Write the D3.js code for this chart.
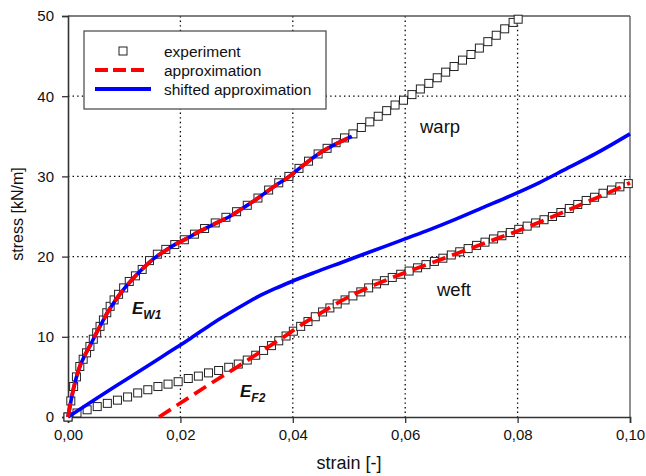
<!DOCTYPE html>
<html><head><meta charset="utf-8">
<script src="https://cdn.jsdelivr.net/npm/d3@7"></script>
<style>
html,body{margin:0;padding:0;background:#fff;}
svg text{font-family:"Liberation Sans",Arial,sans-serif;fill:#111;}
</style></head>
<body><svg id="chart" width="646" height="476"></svg>
<script>
// ---------- data ----------
const xTicks = [0, 0.02, 0.04, 0.06, 0.08, 0.10];
const xTickLabels = ["0,00", "0,02", "0,04", "0,06", "0,08", "0,10"];
const yTicks = [0, 10, 20, 30, 40, 50];
const yTickLabels = ["0", "10", "20", "30", "40", "50"];

// warp experiment
const warpExpStrain = [0,0.0005,0.001,0.0015,0.0021,0.0027,0.0033,0.0039,0.0045,0.0051,0.0057,0.0063,0.0069,0.0075,0.0082,0.0090,0.0099,0.0109,0.0120,0.0132,0.0145,0.0159,0.0174,0.0190,0.0207,0.0225,0.0243,0.0262,0.0281,0.0300,0.0319,0.0338,0.0357,0.0375,0.0393,0.0411,0.0428,0.0445,0.0461,0.0477,0.0492,0.0507,0.0522,0.0537,0.0552,0.0567,0.0582,0.0597,0.0612,0.0627,0.0642,0.0657,0.0672,0.0687,0.0702,0.0717,0.0732,0.0747,0.0762,0.0777,0.0792,0.0801];
const warpExpStress = [0,2.0,3.8,5.0,6.3,7.2,8.0,8.8,9.7,10.5,11.3,12.1,13.0,13.8,14.6,15.3,16.1,16.9,17.6,18.4,19.5,20.3,20.9,21.5,22.1,22.8,23.5,24.2,24.9,25.6,26.4,27.3,28.3,29.2,30.0,31.0,31.9,32.8,33.5,34.2,34.8,35.3,36.1,36.8,37.5,38.2,38.9,39.5,40.2,40.9,41.6,42.3,43.0,43.7,44.5,45.2,46.0,46.8,47.6,48.4,49.2,49.6];

// weft experiment
const weftExpStrain = [0,0.0016,0.0034,0.0052,0.0070,0.0088,0.0106,0.0124,0.0142,0.0160,0.0178,0.0196,0.0214,0.0232,0.0250,0.0268,0.0286,0.0303,0.0319,0.0334,0.0348,0.0362,0.0375,0.0388,0.0401,0.0414,0.0427,0.0440,0.0453,0.0466,0.0479,0.0493,0.0507,0.0521,0.0535,0.0549,0.0563,0.0577,0.0592,0.0607,0.0622,0.0637,0.0652,0.0667,0.0682,0.0697,0.0712,0.0727,0.0742,0.0757,0.0772,0.0787,0.0802,0.0817,0.0832,0.0847,0.0862,0.0877,0.0892,0.0907,0.0922,0.0937,0.0952,0.0967,0.0982,0.0997];
const weftExpStress = [0,0.5,0.9,1.3,1.7,2.1,2.5,3.0,3.4,3.8,4.1,4.4,4.8,5.1,5.5,5.8,6.2,6.6,7.1,7.7,8.3,8.9,9.5,10.1,10.7,11.3,11.9,12.5,13.1,13.6,14.1,14.6,15.1,15.6,16.1,16.6,17.0,17.4,17.8,18.2,18.6,19.0,19.4,19.8,20.2,20.6,21.0,21.4,21.8,22.2,22.6,23.0,23.4,23.8,24.2,24.6,25.0,25.5,26.0,26.5,27.0,27.4,27.9,28.3,28.7,29.1];

// warp approximation (and its shifted version, shift = 0)
const warpApproxStrain = [0,0.001,0.002,0.003,0.004,0.005,0.006,0.007,0.008,0.009,0.010,0.0115,0.013,0.015,0.017,0.019,0.021,0.023,0.025,0.027,0.029,0.031,0.033,0.035,0.037,0.039,0.041,0.043,0.045,0.047,0.049,0.0505];
const warpApproxStress = [0,3.6,6.1,7.7,9.0,10.4,11.7,13.0,14.1,15.1,16.0,17.2,18.3,19.6,20.6,21.5,22.2,23.0,23.7,24.4,25.1,26.0,26.9,27.9,28.9,29.8,30.9,32.0,33.0,33.8,34.5,35.0];

// weft approximation
const weftApproxStrain = [0.0162,0.0250,0.0300,0.0340,0.0380,0.0420,0.0460,0.0500,0.0530,0.0560,0.0600,0.0650,0.0700,0.0750,0.0800,0.0850,0.0900,0.0950,0.1000];
const weftApproxStress = [0,4.0,6.2,8.0,9.8,11.7,13.4,15.0,16.0,16.9,18.0,19.3,20.6,21.9,23.2,24.6,26.1,27.6,29.2];

// shifted weft approximation
const weftShiftStrain = [0,0.0088,0.0138,0.0178,0.0218,0.0258,0.0298,0.0338,0.0368,0.0398,0.0438,0.0488,0.0538,0.0588,0.0638,0.0688,0.0738,0.0788,0.0838,0.0888,0.0938,0.1000];
const weftShiftStress = [0,4.0,6.2,8.0,9.8,11.7,13.4,15.0,16.0,16.9,18.0,19.3,20.6,21.9,23.2,24.6,26.1,27.6,29.2,31.0,32.8,35.3];

const legendLabels = ["experiment", "approximation", "shifted approximation"];

// ---------- drawing ----------
const svg = d3.select("#chart");
const L = 68, R = 630, T = 16, B = 417;
const x = d3.scaleLinear().domain([0, 0.1]).range([L, R]);
const y = d3.scaleLinear().domain([0, 50]).range([B, T]);
const zip = (a, b) => a.map((v, i) => [v, b[i]]);

// grid
const grid = svg.append("g");
grid.selectAll("line.v").data(xTicks.slice(1, -1)).join("line")
  .attr("x1", d => x(d)).attr("x2", d => x(d)).attr("y1", T).attr("y2", B)
  .attr("stroke", "#000").attr("stroke-width", 1.3).attr("stroke-dasharray", "1.4,3.2");
grid.selectAll("line.h").data(yTicks.slice(1, -1)).join("line")
  .attr("y1", d => y(d)).attr("y2", d => y(d)).attr("x1", L).attr("x2", R)
  .attr("stroke", "#000").attr("stroke-width", 1.3).attr("stroke-dasharray", "1.4,3.2");

// frame top/right
svg.append("line").attr("x1", L).attr("x2", R).attr("y1", T).attr("y2", T).attr("stroke", "#555").attr("stroke-width", 1.3);
svg.append("line").attr("x1", R).attr("x2", R).attr("y1", T).attr("y2", B).attr("stroke", "#555").attr("stroke-width", 1.3);

// axes
const xAxis = d3.axisBottom(x).tickValues(xTicks).tickFormat((d, i) => xTickLabels[i]).tickSizeOuter(0).tickSize(6).tickPadding(6);
const yAxis = d3.axisLeft(y).tickValues(yTicks).tickFormat((d, i) => yTickLabels[i]).tickSizeOuter(0).tickSize(6).tickPadding(8);
const gx = svg.append("g").attr("transform", `translate(0,${B})`).call(xAxis);
const gy = svg.append("g").attr("transform", `translate(${L},0)`).call(yAxis);
[gx, gy].forEach(g => {
  g.select(".domain").attr("stroke", "#333").attr("stroke-width", 1.6);
  g.selectAll(".tick line").attr("stroke", "#333").attr("stroke-width", 1.3);
  g.selectAll(".tick text").attr("font-size", 15).attr("font-family", "Liberation Sans, Arial, sans-serif").attr("fill", "#111");
});

// squares
const sq = 8;
const squares = svg.append("g");
[zip(warpExpStrain, warpExpStress), zip(weftExpStrain, weftExpStress)].forEach(pts => {
  squares.append("g").selectAll("rect").data(pts).join("rect")
    .attr("x", d => x(d[0]) - sq / 2).attr("y", d => y(d[1]) - sq / 2)
    .attr("width", sq).attr("height", sq)
    .attr("fill", "#fff").attr("stroke", "#222").attr("stroke-width", 1);
});

const line = d3.line().x(d => x(d[0])).y(d => y(d[1])).curve(d3.curveMonotoneX);
// shifted approximations (blue)
[zip(warpApproxStrain, warpApproxStress), zip(weftShiftStrain, weftShiftStress)].forEach(pts => {
  svg.append("path").attr("d", line(pts)).attr("fill", "none")
    .attr("stroke", "#0000ff").attr("stroke-width", 3.6);
});
// approximations (red dashed)
[zip(warpApproxStrain, warpApproxStress), zip(weftApproxStrain, weftApproxStress)].forEach(pts => {
  svg.append("path").attr("d", line(pts)).attr("fill", "none")
    .attr("stroke", "#ff0000").attr("stroke-width", 3.8).attr("stroke-dasharray", "14,7");
});

// legend
const lg = svg.append("g");
lg.append("rect").attr("x", 84).attr("y", 31).attr("width", 242).attr("height", 78)
  .attr("fill", "#fff").attr("stroke", "#444").attr("stroke-width", 1.2);
const rows = [51, 70, 89];
lg.append("rect").attr("x", 123 - sq / 2).attr("y", rows[0] - sq / 2).attr("width", sq).attr("height", sq)
  .attr("fill", "#fff").attr("stroke", "#222");
lg.append("line").attr("x1", 95).attr("x2", 145).attr("y1", rows[1]).attr("y2", rows[1])
  .attr("stroke", "#ff0000").attr("stroke-width", 3.8).attr("stroke-dasharray", "13,5");
lg.append("line").attr("x1", 95).attr("x2", 151).attr("y1", rows[2]).attr("y2", rows[2])
  .attr("stroke", "#0000ff").attr("stroke-width", 3.8);
lg.selectAll("text").data(legendLabels).join("text")
  .attr("x", 164).attr("y", (d, i) => rows[i] + 5.5)
  .attr("font-size", 15.5).text(d => d);

// axis titles
svg.append("text").attr("x", (L + R) / 2).attr("y", 469).attr("text-anchor", "middle")
  .attr("font-size", 18).text("strain [-]");
svg.append("text").attr("transform", "translate(23,214) rotate(-90)").attr("text-anchor", "middle")
  .attr("font-size", 16).text("stress [kN/m]");

// annotations
svg.append("text").attr("x", 420).attr("y", 133).attr("font-size", 18.5).text("warp");
svg.append("text").attr("x", 437).attr("y", 296).attr("font-size", 18.5).text("weft");
const ew = svg.append("text").attr("x", 132).attr("y", 314).attr("font-size", 17)
  .attr("font-weight", "bold").attr("font-style", "italic");
ew.append("tspan").text("E");
ew.append("tspan").attr("dy", 5).attr("font-size", 12).text("W1");
const ef = svg.append("text").attr("x", 240).attr("y", 397).attr("font-size", 17)
  .attr("font-weight", "bold").attr("font-style", "italic");
ef.append("tspan").text("E");
ef.append("tspan").attr("dy", 5).attr("font-size", 12).text("F2");
</script></body></html>
